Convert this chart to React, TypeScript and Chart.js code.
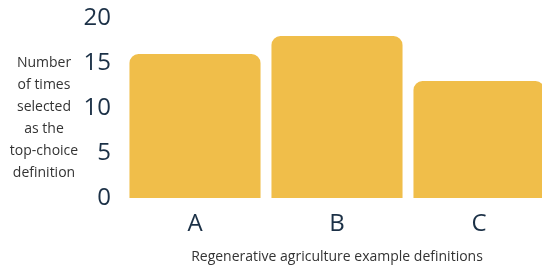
import React, { useEffect, useRef } from "react";
import { Chart, registerables } from "chart.js";

Chart.register(...registerables);

const categories = ["A", "B", "C"];
const counts = [16, 18, 13];
const yTicks = [0, 5, 10, 15, 20];
const yTitleLines = ["Number", "of times", "selected", "as the", "top-choice", "definition"];
const xTitle = "Regenerative agriculture example definitions";

const FONT = "'Open Sans', sans-serif";

const yTitlePlugin = {
  id: "yTitleHorizontal",
  afterDraw(chart: any) {
    const ctx = chart.ctx;
    ctx.save();
    ctx.font = `14px ${FONT}`;
    ctx.fillStyle = "#333333";
    ctx.textAlign = "center";
    ctx.textBaseline = "middle";
    const lh = 22;
    const start = 63;
    yTitleLines.forEach((t, i) => ctx.fillText(t, 44, start + i * lh));
    ctx.restore();
  },
};

export default function App() {
  const ref = useRef<HTMLCanvasElement>(null);
  useEffect(() => {
    const chart = new Chart(ref.current!, {
      type: "bar",
      data: {
        labels: categories,
        datasets: [
          {
            data: counts,
            backgroundColor: "#F0BE4A",
            borderRadius: 9,
            borderSkipped: "bottom",
            categoryPercentage: 1,
            barPercentage: 0.923,
          },
        ],
      },
      options: {
        responsive: false,
        animation: false,
        layout: { padding: { top: 18, right: 0, left: 0, bottom: 0 } },
        plugins: { legend: { display: false }, tooltip: { enabled: false } },
        scales: {
          y: {
            min: 0,
            max: 20,
            afterBuildTicks: (scale: any) => {
              scale.ticks = yTicks.map((v) => ({ value: v }));
            },
            afterFit: (scale: any) => {
              scale.width = 124;
              scale.paddingTop = 0;
              scale.paddingBottom = 0;
            },
            grid: { display: false, drawTicks: false },
            border: { display: false },
            ticks: {
              padding: 13,
              color: "#1B3046",
              font: { family: FONT, size: 24 },
            },
          },
          x: {
            afterFit: (scale: any) => {
              scale.height = 68;
              scale.paddingLeft = 0;
              scale.paddingRight = 0;
            },
            grid: { display: false, drawTicks: false },
            border: { display: false },
            ticks: {
              padding: 12,
              color: "#1B3046",
              font: { family: FONT, size: 24 },
            },
            title: {
              display: true,
              text: xTitle,
              color: "#333333",
              font: { family: FONT, size: 14 },
              padding: { top: 4, bottom: 1 },
            },
          },
        },
      },
      plugins: [yTitlePlugin],
    });
    return () => chart.destroy();
  }, []);
  return (
    <div style={{ position: "fixed", left: 0, top: 0, width: 550, height: 266, background: "#fff" }}>
      <canvas ref={ref} width={550} height={266} style={{ display: "block" }} />
    </div>
  );
}
